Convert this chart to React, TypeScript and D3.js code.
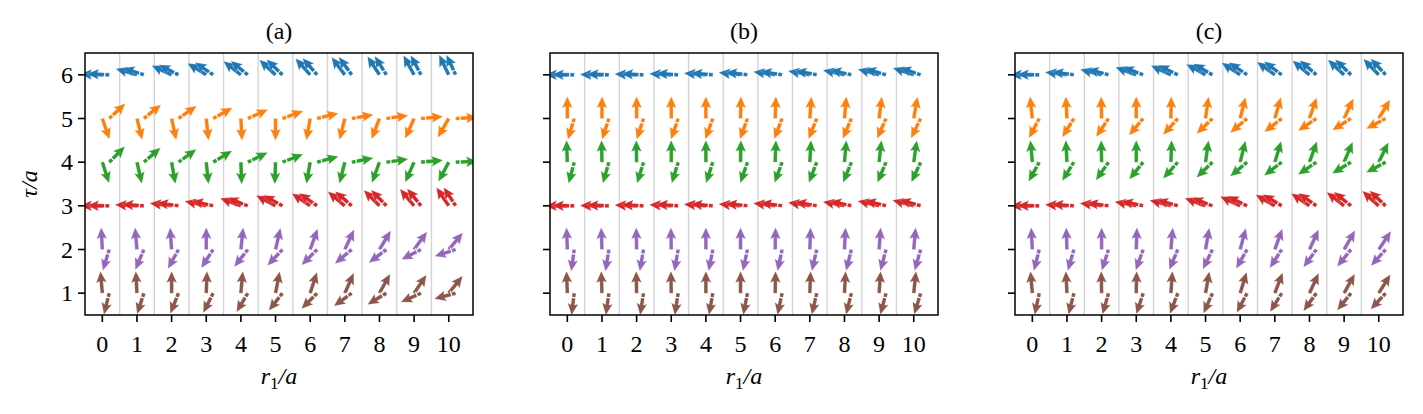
import React from "react";
import * as d3 from "d3";

// ---------- data ----------
const r1Values = [0, 1, 2, 3, 4, 5, 6, 7, 8, 9, 10];
const tauRows = [6, 5, 4, 3, 2, 1];
const yTickValues = [1, 2, 3, 4, 5, 6];
const xTickValues = [0, 1, 2, 3, 4, 5, 6, 7, 8, 9, 10];
const gridValues = [0.5, 1.5, 2.5, 3.5, 4.5, 5.5, 6.5, 7.5, 8.5, 9.5];
const panelTitles = ["(a)", "(b)", "(c)"];
const rowColors = ["#1f77b4", "#ff7f0e", "#2ca02c", "#d62728", "#9467bd", "#8c564b"];

// arrow angles in degrees (counter-clockwise from +r1), s1 = arrow at the site, s2 = shifted partner
// panel (a)
const a_tau6_s1 = [178, 164, 155, 148, 142, 137, 132, 127, 123, 119, 116];
const a_tau6_s2 = [177, 162, 153, 146, 141, 136, 131, 126, 122, 118, 115];
const a_tau5_s1 = [-71, -76, -78, -84, -87, -90, -100, -104, -111, -114, -120];
const a_tau5_s2 = [43, 39, 35, 29, 24, 20, 14, 10, 8, 5, 3];
const a_tau4_s1 = [-72, -77, -80, -84, -88, -92, -100, -104, -110, -114, -118];
const a_tau4_s2 = [45, 41, 36, 31, 26, 21, 15, 11, 8, 5, 2];
const a_tau3_s1 = [180, 177, 173, 168, 160, 152, 146, 140, 135, 130, 124];
const a_tau3_s2 = [179, 176, 172, 167, 159, 151, 145, 139, 134, 129, 123];
const a_tau2_s1 = [93, 95, 94, 90, 84, 77, 70, 65, 59, 54, 50];
const a_tau2_s2 = [-107, -113, -119, -123, -128, -133, -135, -140, -143, -153, -162];
const a_tau1_s1 = [95, 93, 90, 88, 85, 79, 72, 66, 61, 56, 51];
const a_tau1_s2 = [-104, -108, -112, -117, -121, -128, -135, -144, -149, -156, -165];
// panel (b)
const b_tau6_s1 = [180, 179, 178, 177, 176, 174, 172, 170, 168, 165, 162];
const b_tau6_s2 = [179, 178, 177, 176, 175, 173, 171, 169, 167, 164, 161];
const b_tau5_s1 = [90, 90, 90, 90, 90, 89, 88, 86, 85, 83, 80];
const b_tau5_s2 = [-107, -108, -108, -109, -110, -110, -111, -112, -113, -114, -116];
const b_tau4_s1 = [92, 91, 91, 90, 90, 89, 88, 87, 85, 84, 82];
const b_tau4_s2 = [-105, -106, -107, -107, -108, -109, -110, -111, -112, -113, -115];
const b_tau3_s1 = [180, 179, 178, 177, 176, 175, 173, 171, 169, 167, 165];
const b_tau3_s2 = [179, 178, 177, 176, 175, 174, 172, 170, 168, 166, 164];
const b_tau2_s1 = [92, 92, 91, 91, 90, 90, 89, 88, 87, 86, 85];
const b_tau2_s2 = [-98, -99, -100, -100, -101, -102, -102, -103, -104, -105, -106];
const b_tau1_s1 = [92, 92, 91, 91, 90, 90, 89, 88, 87, 86, 84];
const b_tau1_s2 = [-97, -98, -99, -99, -100, -101, -102, -103, -104, -105, -107];
// panel (c)
const c_tau6_s1 = [180, 173, 166, 160, 155, 151, 147, 144, 140, 137, 134];
const c_tau6_s2 = [179, 172, 165, 159, 154, 150, 146, 143, 139, 136, 133];
const c_tau5_s1 = [96, 93, 91, 90, 89, 82, 76, 74, 71, 65, 59];
const c_tau5_s2 = [-118, -122, -124, -130, -132, -136, -140, -142, -146, -148, -152];
const c_tau4_s1 = [95, 93, 91, 90, 88, 82, 76, 73, 70, 67, 64];
const c_tau4_s2 = [-119, -122, -125, -129, -132, -136, -140, -143, -146, -149, -152];
const c_tau3_s1 = [180, 177, 173, 169, 165, 160, 155, 150, 146, 142, 138];
const c_tau3_s2 = [179, 176, 172, 168, 164, 159, 154, 149, 145, 141, 137];
const c_tau2_s1 = [93, 92, 90, 88, 85, 80, 75, 70, 65, 60, 56];
const c_tau2_s2 = [-104, -106, -108, -110, -113, -116, -120, -123, -126, -129, -132];
const c_tau1_s1 = [95, 93, 91, 89, 86, 80, 73, 69, 65, 61, 58];
const c_tau1_s2 = [-102, -104, -106, -108, -111, -114, -118, -122, -126, -129, -133];

const panelsData = [
  [
    [a_tau6_s1, a_tau6_s2], [a_tau5_s1, a_tau5_s2], [a_tau4_s1, a_tau4_s2],
    [a_tau3_s1, a_tau3_s2], [a_tau2_s1, a_tau2_s2], [a_tau1_s1, a_tau1_s2],
  ],
  [
    [b_tau6_s1, b_tau6_s2], [b_tau5_s1, b_tau5_s2], [b_tau4_s1, b_tau4_s2],
    [b_tau3_s1, b_tau3_s2], [b_tau2_s1, b_tau2_s2], [b_tau1_s1, b_tau1_s2],
  ],
  [
    [c_tau6_s1, c_tau6_s2], [c_tau5_s1, c_tau5_s2], [c_tau4_s1, c_tau4_s2],
    [c_tau3_s1, c_tau3_s2], [c_tau2_s1, c_tau2_s2], [c_tau1_s1, c_tau1_s2],
  ],
];

// ---------- layout ----------
const W = 1423;
const H = 414;
const panelLeft = [85, 550, 1015];
const panelTop = 53;
const panelW = 388;
const panelH = 262;
const partnerShift = 0.2; // r1 offset of the partner arrow
const FONT = "'Liberation Serif', 'DejaVu Serif', serif";

// arrow geometry (px)
const AL = 22;
const AW = 3.6;
const AHW = 10.5;
const AHL = 11.5;
const AHAL = 10;
const arrowShape = d3.line()([
  [0, -AW / 2],
  [AL - AHAL, -AW / 2],
  [AL - AHL, -AHW / 2],
  [AL, 0],
  [AL - AHL, AHW / 2],
  [AL - AHAL, AW / 2],
  [0, AW / 2],
]) + "Z";

function Arrow({ x, y, angle, color, gap }: { x: number; y: number; angle: number; color: string; gap: boolean }) {
  return (
    <g transform={`translate(${x},${y}) rotate(${-angle})`}>
      <path d={arrowShape} fill={color} stroke="#ffffff" strokeWidth={0.3} strokeOpacity={0.6} />
      {gap && <line x1={4.5} x2={4.5} y1={-AW} y2={AW} stroke="#ffffff" strokeWidth={1.2} />}
    </g>
  );
}

function Panel({ idx }: { idx: number }) {
  const x = d3.scaleLinear().domain([-0.5, 10.7]).range([0, panelW]);
  const y = d3.scaleLinear().domain([0.5, 6.5]).range([panelH, 0]);
  const rows = panelsData[idx];
  const clipId = `clip-${idx}`;
  return (
    <g transform={`translate(${panelLeft[idx]},${panelTop})`}>
      <defs>
        <clipPath id={clipId}>
          <rect x={0} y={0} width={panelW} height={panelH} />
        </clipPath>
      </defs>
      {gridValues.map((g) => (
        <line key={g} x1={x(g)} x2={x(g)} y1={0} y2={panelH} stroke="#d4d4d4" strokeWidth={1.4} />
      ))}
      <g clipPath={`url(#${clipId})`}>
        {rows.map((pair, ri) =>
          r1Values.map((r, ci) => (
            <g key={`${ri}-${ci}`}>
              <Arrow x={x(r)} y={y(tauRows[ri])} angle={pair[0][ci]} color={rowColors[ri]} gap={false} />
              <Arrow x={x(r + partnerShift)} y={y(tauRows[ri])} angle={pair[1][ci]} color={rowColors[ri]} gap={true} />
            </g>
          ))
        )}
      </g>
      <rect x={0} y={0} width={panelW} height={panelH} fill="none" stroke="#000" strokeWidth={1.5} />
      {xTickValues.map((t) => (
        <g key={t} transform={`translate(${x(t)},${panelH})`}>
          <line y1={0} y2={7} stroke="#000" strokeWidth={1.6} />
          <text y={37} textAnchor="middle" fontFamily={FONT} fontSize={24} fill="#000">{t}</text>
        </g>
      ))}
      {yTickValues.map((t) => (
        <g key={t} transform={`translate(0,${y(t)})`}>
          <line x1={-7} x2={0} stroke="#000" strokeWidth={1.6} />
          {idx === 0 && (
            <text x={-12} dy="0.34em" textAnchor="end" fontFamily={FONT} fontSize={24} fill="#000">{t}</text>
          )}
        </g>
      ))}
      <text x={panelW / 2} y={-14} textAnchor="middle" fontFamily={FONT} fontSize={24} fill="#000">
        {panelTitles[idx]}
      </text>
      <text x={panelW / 2} y={331} textAnchor="middle" fontFamily={FONT} fontSize={24} fill="#000" fontStyle="italic">
        r<tspan fontStyle="normal" fontSize={17} dy={5}>1</tspan>
        <tspan dy={-5}>/a</tspan>
      </text>
      {idx === 0 && (
        <text
          transform={`translate(-48,${panelH / 2}) rotate(-90)`}
          textAnchor="middle"
          fontFamily={FONT}
          fontSize={24}
          fontStyle="italic"
          fill="#000"
        >
          τ/a
        </text>
      )}
    </g>
  );
}

export default function App() {
  return (
    <div style={{ position: "absolute", left: 0, top: 0 }}>
      <svg width={W} height={H} viewBox={`0 0 ${W} ${H}`} style={{ display: "block", background: "#fff" }}>
        {[0, 1, 2].map((i) => (
          <Panel key={i} idx={i} />
        ))}
      </svg>
    </div>
  );
}
